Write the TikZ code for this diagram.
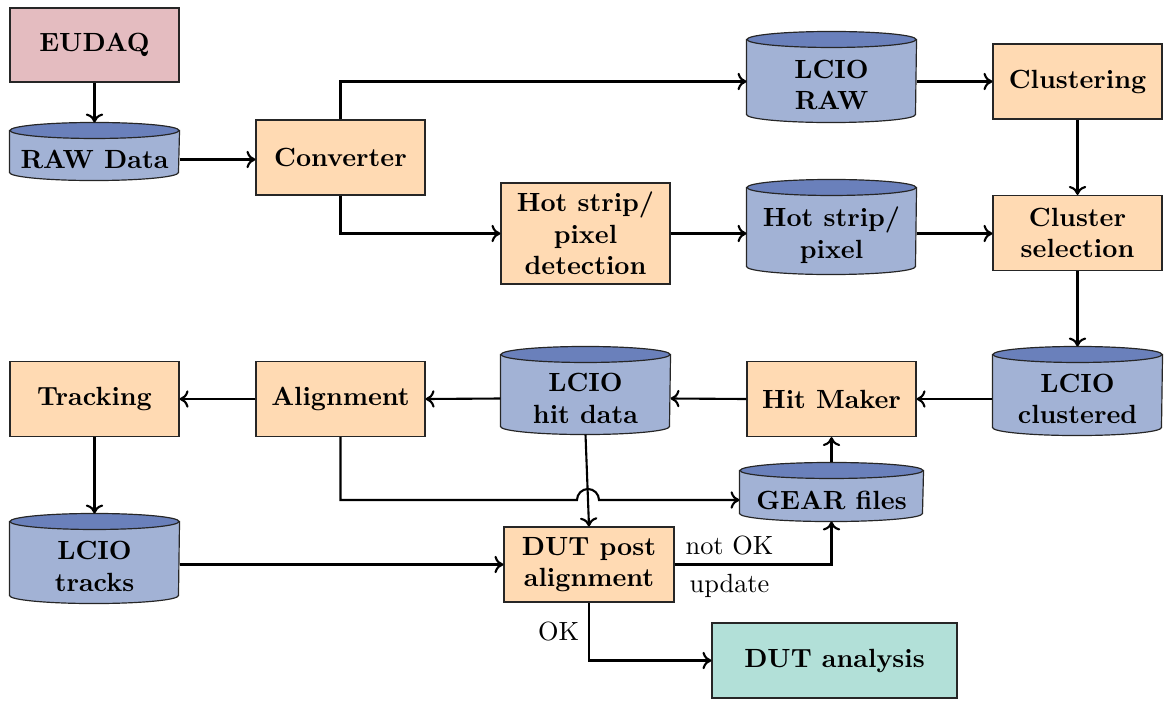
\documentclass[tikz,border=0pt]{standalone}
\usetikzlibrary{calc,backgrounds,arrows.meta}
\definecolor{boxorange}{RGB}{255,218,179}
\definecolor{boxpink}{RGB}{228,188,192}
\definecolor{boxteal}{RGB}{178,224,216}
\definecolor{cylbody}{RGB}{162,178,213}
\definecolor{cyltop}{RGB}{106,128,187}
\newcommand\drawcyl[2]{%
  \draw[cylline,fill=cylbody] ([yshift=3.04pt]#1.north west) -- ([yshift=3.04pt]#1.south west)
    arc[start angle=180,end angle=360,x radius=#2,y radius=8]
    -- ([yshift=3.04pt]#1.north east) -- cycle;
  \draw[cylline,fill=cyltop] ([yshift=3.04pt]#1.north) ellipse[x radius=#2,y radius=8];
}
\begin{document}
\begin{tikzpicture}[x=0.38pt,y=0.38pt,
  proc/.style={draw=black!85,line width=0.45pt,fill=boxorange,minimum width=64.22pt,minimum height=28.5pt,align=center,font=\bfseries,inner sep=2pt},
  cyltext/.style={minimum width=64.22pt,align=center,font=\bfseries,inner sep=0pt},
  cylline/.style={draw=black!85,line width=0.45pt},
  conn/.style={-{To[length=3.4pt,width=6.6pt]},line width=0.8pt},
  lbl/.style={font=\normalfont}]
\useasboundingbox (0,0) rectangle (1164,-700);
% process boxes
\node[proc,fill=boxpink,minimum height=28.12pt] (eudaq) at (94.5,-45) {EUDAQ};
\node[proc] (conv) at (340.5,-157.5) {Converter};
\node[proc] (clus) at (1077.5,-81.5) {Clustering};
\node[proc,minimum height=38.38pt] (hotdet) at (585.5,-233.5) {Hot strip/\\pixel\\detection};
\node[proc] (clsel) at (1077.5,-233) {Cluster\\selection};
\node[proc] (hitmk) at (831.5,-399) {Hit Maker};
\node[proc] (align) at (340.5,-399) {Alignment};
\node[proc] (track) at (94.5,-399) {Tracking};
\node[proc,minimum width=64.6pt] (dutpost) at (589,-564.5) {DUT post\\alignment};
\node[proc,fill=boxteal,minimum width=93.1pt] (dutana) at (834.5,-660.5) {DUT analysis};
% data cylinders (text part)
\node[cyltext,minimum height=15.58pt] (rawd) at (94.5,-159.5) {RAW Data};
\node[cyltext,minimum height=28.12pt] (lcraw) at (831.5,-85) {LCIO\\RAW};
\node[cyltext,minimum height=29.64pt] (hotcyl) at (831.5,-235) {Hot strip/\\pixel};
\node[cyltext,minimum height=27.36pt] (lcclu) at (1077.5,-399) {LCIO\\clustered};
\node[cyltext,minimum height=26.98pt] (hitdat) at (585.5,-398.5) {LCIO\\hit data};
\node[cyltext,minimum height=27.74pt] (lctrk) at (94.5,-566.5) {LCIO\\tracks};
\node[cyltext,minimum height=15.96pt,minimum width=69.54pt] (gear) at (831.5,-500) {GEAR files};
\begin{scope}[on background layer]
  \drawcyl{rawd}{84.5}
  \drawcyl{lcraw}{84.5}
  \drawcyl{hotcyl}{84.5}
  \drawcyl{lcclu}{84.5}
  \drawcyl{hitdat}{84.5}
  \drawcyl{lctrk}{84.5}
  \drawcyl{gear}{91.5}
\end{scope}
% connectors
\draw[conn] (eudaq.south) -- ([yshift=6.08pt]rawd.north);
\draw[conn] (rawd.east) -- (rawd.east -| conv.west);
\draw[conn] (conv.north) |- (lcraw.west |- clus.west);
\draw[conn] (lcraw.east |- clus.west) -- (clus.west);
\draw[conn] (clus.south) -- (clsel.north);
\draw[conn] (conv.south) |- (hotdet.west);
\draw[conn] (hotdet.east) -- (hotdet.east -| hotcyl.west);
\draw[conn] (hotdet.east -| hotcyl.east) -- (hotdet.east -| clsel.west);
\draw[conn] (clsel.south) -- ([yshift=6.08pt]lcclu.north);
\draw[conn] (lcclu.west) -- (hitmk.east);
\draw[conn] (hitmk.west) -- (hitdat.east);
\draw[conn] (hitdat.west) -- (align.east);
\draw[conn] (align.west) -- (track.east);
\draw[conn] (track.south) -- ([yshift=6.08pt]lctrk.north);
\draw[conn] ([yshift=6.08pt]gear.north) -- (hitmk.south);
\draw[conn] (hitdat.south) -- (dutpost.north) coordinate[pos=0.71] (jc);
\coordinate (jx) at (jc |- gear.west);
\draw[conn] (align.south) |- ([xshift=-4.18pt]jx) arc[start angle=180,end angle=0,radius=11] -- (gear.west);
\draw[conn] (dutpost.west -| lctrk.east) -- (dutpost.west);
\draw[conn] (dutpost.east) -| (gear.south)
  node[lbl,above,pos=0.175] {not OK}
  node[lbl,below,pos=0.175] {update};
\draw[conn] (dutpost.south) |- (dutana.west)
  node[lbl,left,pos=0.25] {OK};
\end{tikzpicture}
\end{document}
